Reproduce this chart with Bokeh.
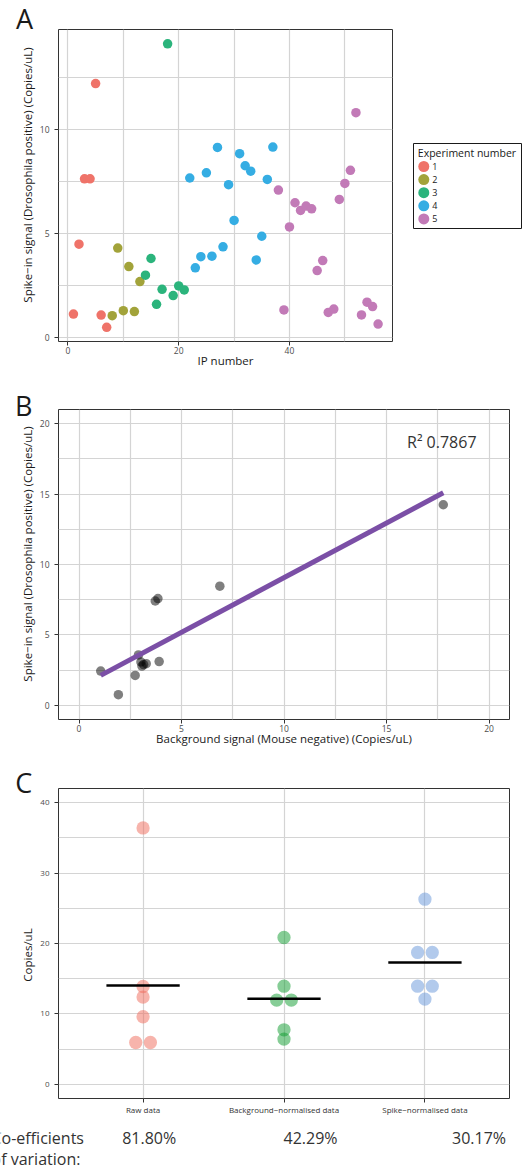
import numpy as np
from bokeh.plotting import figure
from bokeh.layouts import column, row
from bokeh.models import Range1d, FixedTicker, Label, ColumnDataSource, Div
from bokeh.embed import file_html
from bokeh.resources import INLINE
from bokeh.core.properties import value

FONT = "Open Sans"

# ---------------- Panel A data ----------------
ip_number = list(range(1, 57))
experiment_number = [1] * 7 + [2] * 6 + [3] * 8 + [4] * 16 + [5] * 19
spike_in_a = [
    1.12, 4.48, 7.62, 7.62, 12.2, 1.07, 0.48,                      # exp 1
    1.04, 4.29, 1.28, 3.40, 1.24, 2.68,                            # exp 2
    2.99, 3.79, 1.59, 2.31, 14.11, 2.01, 2.47, 2.28,               # exp 3
    7.66, 3.34, 3.88, 7.91, 3.90, 9.13, 4.35, 7.34, 5.62, 8.83,
    8.25, 7.99, 3.72, 4.86, 7.59, 9.15,                            # exp 4
    7.08, 1.32, 5.31, 6.47, 6.10, 6.31, 6.18, 3.21, 3.69, 1.20,
    1.36, 6.63, 7.40, 8.03, 10.80, 1.08, 1.69, 1.48, 0.64,         # exp 5
]
experiment_labels = ["1", "2", "3", "4", "5"]
experiment_colors = ["#EF7369", "#A2A33A", "#2BB47C", "#35ADE3", "#C27AB7"]
legend_title = "Experiment number"
a_x_ticks = [0, 20, 40]
a_y_ticks = [0, 5, 10]
spike_label = "Spike\u2212in signal (Drosophila positive) (Copies/uL)"

# ---------------- Panel B data ----------------
background_signal = [1.06, 1.92, 2.74, 2.90, 3.02, 3.07, 3.15, 3.28, 3.91, 3.72, 3.85, 6.87, 17.77]
spike_in_b = [2.44, 0.76, 2.13, 3.58, 3.08, 2.79, 2.90, 2.96, 3.11, 7.41, 7.58, 8.46, 14.24]
r2_text = "R\u00b2 0.7867"
b_ticks = [0, 5, 10, 15, 20]

# ---------------- Panel C data ----------------
groups = ["Raw data", "Background\u2212normalised data", "Spike\u2212normalised data"]
raw_data = [36.4, 13.9, 12.4, 9.6, 5.95, 5.95]
background_normalised = [20.85, 13.94, 11.97, 11.97, 7.75, 6.43]
spike_normalised = [26.29, 18.73, 18.73, 13.94, 13.94, 12.11]
group_colors = ["#EF6959", "#0D9B2D", "#6595D9"]
cv_labels = ["81.80%", "42.29%", "30.17%"]
cv_title = ["Co-efficients", "of variation:"]
c_y_ticks = [0, 10, 20, 30, 40]

GRID = "#D4D4D4"
INK = "#1A1A1A"
STRIP_W = 36


def make_fig(**kw):
    p = figure(output_backend="svg", toolbar_location=None, **kw)
    p.title.visible = False
    return p


def style(p, xlabel, tick_size="8.5px"):
    p.outline_line_color = "#333333"
    p.outline_line_width = 1
    p.xaxis.axis_label = xlabel
    for ax in p.axis:
        ax.axis_line_color = None
        ax.major_tick_line_color = "#333333"
        ax.major_tick_line_width = 1
        ax.major_tick_out = 4
        ax.major_tick_in = 0
        ax.minor_tick_line_color = None
        ax.major_label_text_font = FONT
        ax.major_label_text_font_size = tick_size
        ax.major_label_text_color = "#4D4D4D"
        ax.axis_label_text_font = FONT
        ax.axis_label_text_font_size = "11.5px"
        ax.axis_label_text_font_style = "normal"
        ax.axis_label_text_color = INK
    p.xaxis.major_label_standoff = 1
    p.yaxis.major_label_standoff = 5
    p.xaxis.axis_label_standoff = -4
    p.grid.grid_line_color = GRID
    p.grid.grid_line_width = 1.2


def side_div(height, letter, letter_left, letter_base, ylabel, ylabel_center):
    # letter: 27px Open Sans, line-height 1 -> baseline sits 24px below the box top
    top = letter_base - 24.0
    html = (
        f'<div style="position:relative;width:{STRIP_W}px;height:{height}px;overflow:hidden;'
        f"font-family:'{FONT}';color:{INK};background:white;\">"
        f'<div style="position:absolute;left:{letter_left}px;top:{top}px;font-size:27px;'
        f'line-height:1;white-space:nowrap;">{letter}</div>'
        f'<div style="position:absolute;left:28.3px;top:{ylabel_center}px;font-size:11.5px;'
        f'line-height:1;white-space:nowrap;transform:translate(-50%,-50%) rotate(-90deg);">'
        f'{ylabel}</div></div>'
    )
    return Div(text=html, width=STRIP_W, height=height, margin=0)


def half_steps(ticks):
    step = (ticks[1] - ticks[0]) / 2
    return list(np.arange(ticks[0], ticks[-1] + step * 1.01, step))


# ---------------- Panel A ----------------
pa = make_fig(width=358, height=378, x_range=Range1d(-1.7, 58.6), y_range=Range1d(-0.2, 14.8),
              min_border_left=22, min_border_right=2, min_border_top=29, min_border_bottom=37)
style(pa, "IP number")
pa.xaxis.ticker = FixedTicker(ticks=a_x_ticks)
pa.yaxis.ticker = FixedTicker(ticks=a_y_ticks)
pa.xgrid.ticker = FixedTicker(ticks=half_steps(a_x_ticks) + [50])
pa.ygrid.ticker = FixedTicker(ticks=half_steps(a_y_ticks) + [12.5])
src_a = ColumnDataSource(dict(
    ip=ip_number, spike=spike_in_a,
    color=[experiment_colors[e - 1] for e in experiment_number]))
pa.scatter("ip", "spike", source=src_a, size=9.5, fill_color="color", line_color=None)
sa = side_div(378, "A", 16, 29.3, spike_label, 175)

# legend as its own small figure; its frame shares panel A's top/bottom borders
pl = make_fig(width=130, height=378, x_range=Range1d(0, 130), y_range=Range1d(-341, -29),
              min_border_left=0, min_border_right=0, min_border_top=29, min_border_bottom=37,
              x_axis_type=None, y_axis_type=None)
pl.outline_line_color = None
pl.quad(left=[19], right=[127], top=[-143], bottom=[-228], fill_color="white",
        line_color=INK, line_width=1)
pl.text(x=[23.3], y=[-152], text=[legend_title], text_font=value(FONT),
        text_font_size="10.5px", text_baseline="middle", text_color=INK)
leg_y = [-(166 + 13.1 * i) for i in range(len(experiment_labels))]
pl.scatter(x=[29.3] * len(experiment_labels), y=leg_y, size=11,
           fill_color=experiment_colors, line_color=None)
pl.text(x=[37.7] * len(experiment_labels), y=leg_y, text=experiment_labels,
        text_font=value(FONT), text_font_size="9px", text_baseline="middle",
        text_color=INK)

# ---------------- Panel B ----------------
pb = make_fig(width=488, height=382, x_range=Range1d(-1, 21), y_range=Range1d(-1, 21),
              min_border_left=22, min_border_right=15, min_border_top=31, min_border_bottom=41)
style(pb, "Background signal (Mouse negative) (Copies/uL)")
pb.xaxis.ticker = FixedTicker(ticks=b_ticks)
pb.yaxis.ticker = FixedTicker(ticks=b_ticks)
pb.xgrid.ticker = FixedTicker(ticks=half_steps(b_ticks))
pb.ygrid.ticker = FixedTicker(ticks=half_steps(b_ticks))
pb.scatter(background_signal, spike_in_b, size=9.5, fill_color="black", fill_alpha=0.5,
           line_color=None)
slope, intercept = np.polyfit(background_signal, spike_in_b, 1)
fit_x = np.array([min(background_signal), max(background_signal)])
pb.line(fit_x, slope * fit_x + intercept, line_width=5, line_color="#7B4FA6")
pb.add_layout(Label(x=16.0, y=18.67, text=r2_text, text_font=FONT, text_font_size="16px",
                    text_color="#333333", text_align="left", text_baseline="alphabetic"))
sb = side_div(382, "B", 15, 38, spike_label, 176)

# ---------------- Panel C ----------------
pc = make_fig(width=488, height=360, x_range=Range1d(0.4, 3.6), y_range=Range1d(-2, 42),
              min_border_left=22, min_border_right=15, min_border_top=28, min_border_bottom=22)
style(pc, None, tick_size="8px")
pc.xaxis.ticker = FixedTicker(ticks=[1, 2, 3])
pc.xaxis.major_label_overrides = {i + 1: g for i, g in enumerate(groups)}
pc.xaxis.major_label_text_color = "#333333"
pc.yaxis.ticker = FixedTicker(ticks=c_y_ticks)
pc.xgrid.ticker = FixedTicker(ticks=[1, 2, 3])
pc.ygrid.ticker = FixedTicker(ticks=half_steps(c_y_ticks))

DODGE = 0.104
for gi, vals in enumerate([raw_data, background_normalised, spike_normalised]):
    xs, ys = [], []
    for v in sorted(set(vals)):
        n = vals.count(v)
        for k in range(n):
            xs.append(gi + 1 + (k - (n - 1) / 2) * DODGE)
            ys.append(v)
    pc.scatter(xs, ys, size=13.3, fill_color=group_colors[gi], fill_alpha=0.5, line_color=None)
    m = float(np.mean(vals))
    pc.segment(x0=[gi + 1 - 0.26], x1=[gi + 1 + 0.26], y0=[m], y1=[m],
               line_color="black", line_width=2.5)
sc = side_div(360, "C", 15.2, 33.3, "Copies/uL", 195)

# coefficient-of-variation strip (page y 1120..1168)
cv = make_fig(width=524, height=48, x_range=Range1d(0, 524), y_range=Range1d(-48, 0),
              min_border=0, x_axis_type=None, y_axis_type=None)
cv.outline_line_color = None
cv.text(x=[-9] * len(cv_title), y=[-17.5 - 21 * i for i in range(len(cv_title))], text=cv_title,
        text_font=value(FONT), text_font_size="16px", text_baseline="middle",
        text_align="left", text_color="#333333")
cv.text(x=[148.7, 310, 478.5], y=[-17.5] * len(cv_labels), text=cv_labels,
        text_font=value(FONT), text_font_size="16px", text_baseline="middle",
        text_align="center", text_color="#333333")

layout = column(row(sa, pa, pl), row(sb, pb), row(sc, pc), cv, spacing=0)

open("out.html", "w").write(file_html(layout, INLINE))
